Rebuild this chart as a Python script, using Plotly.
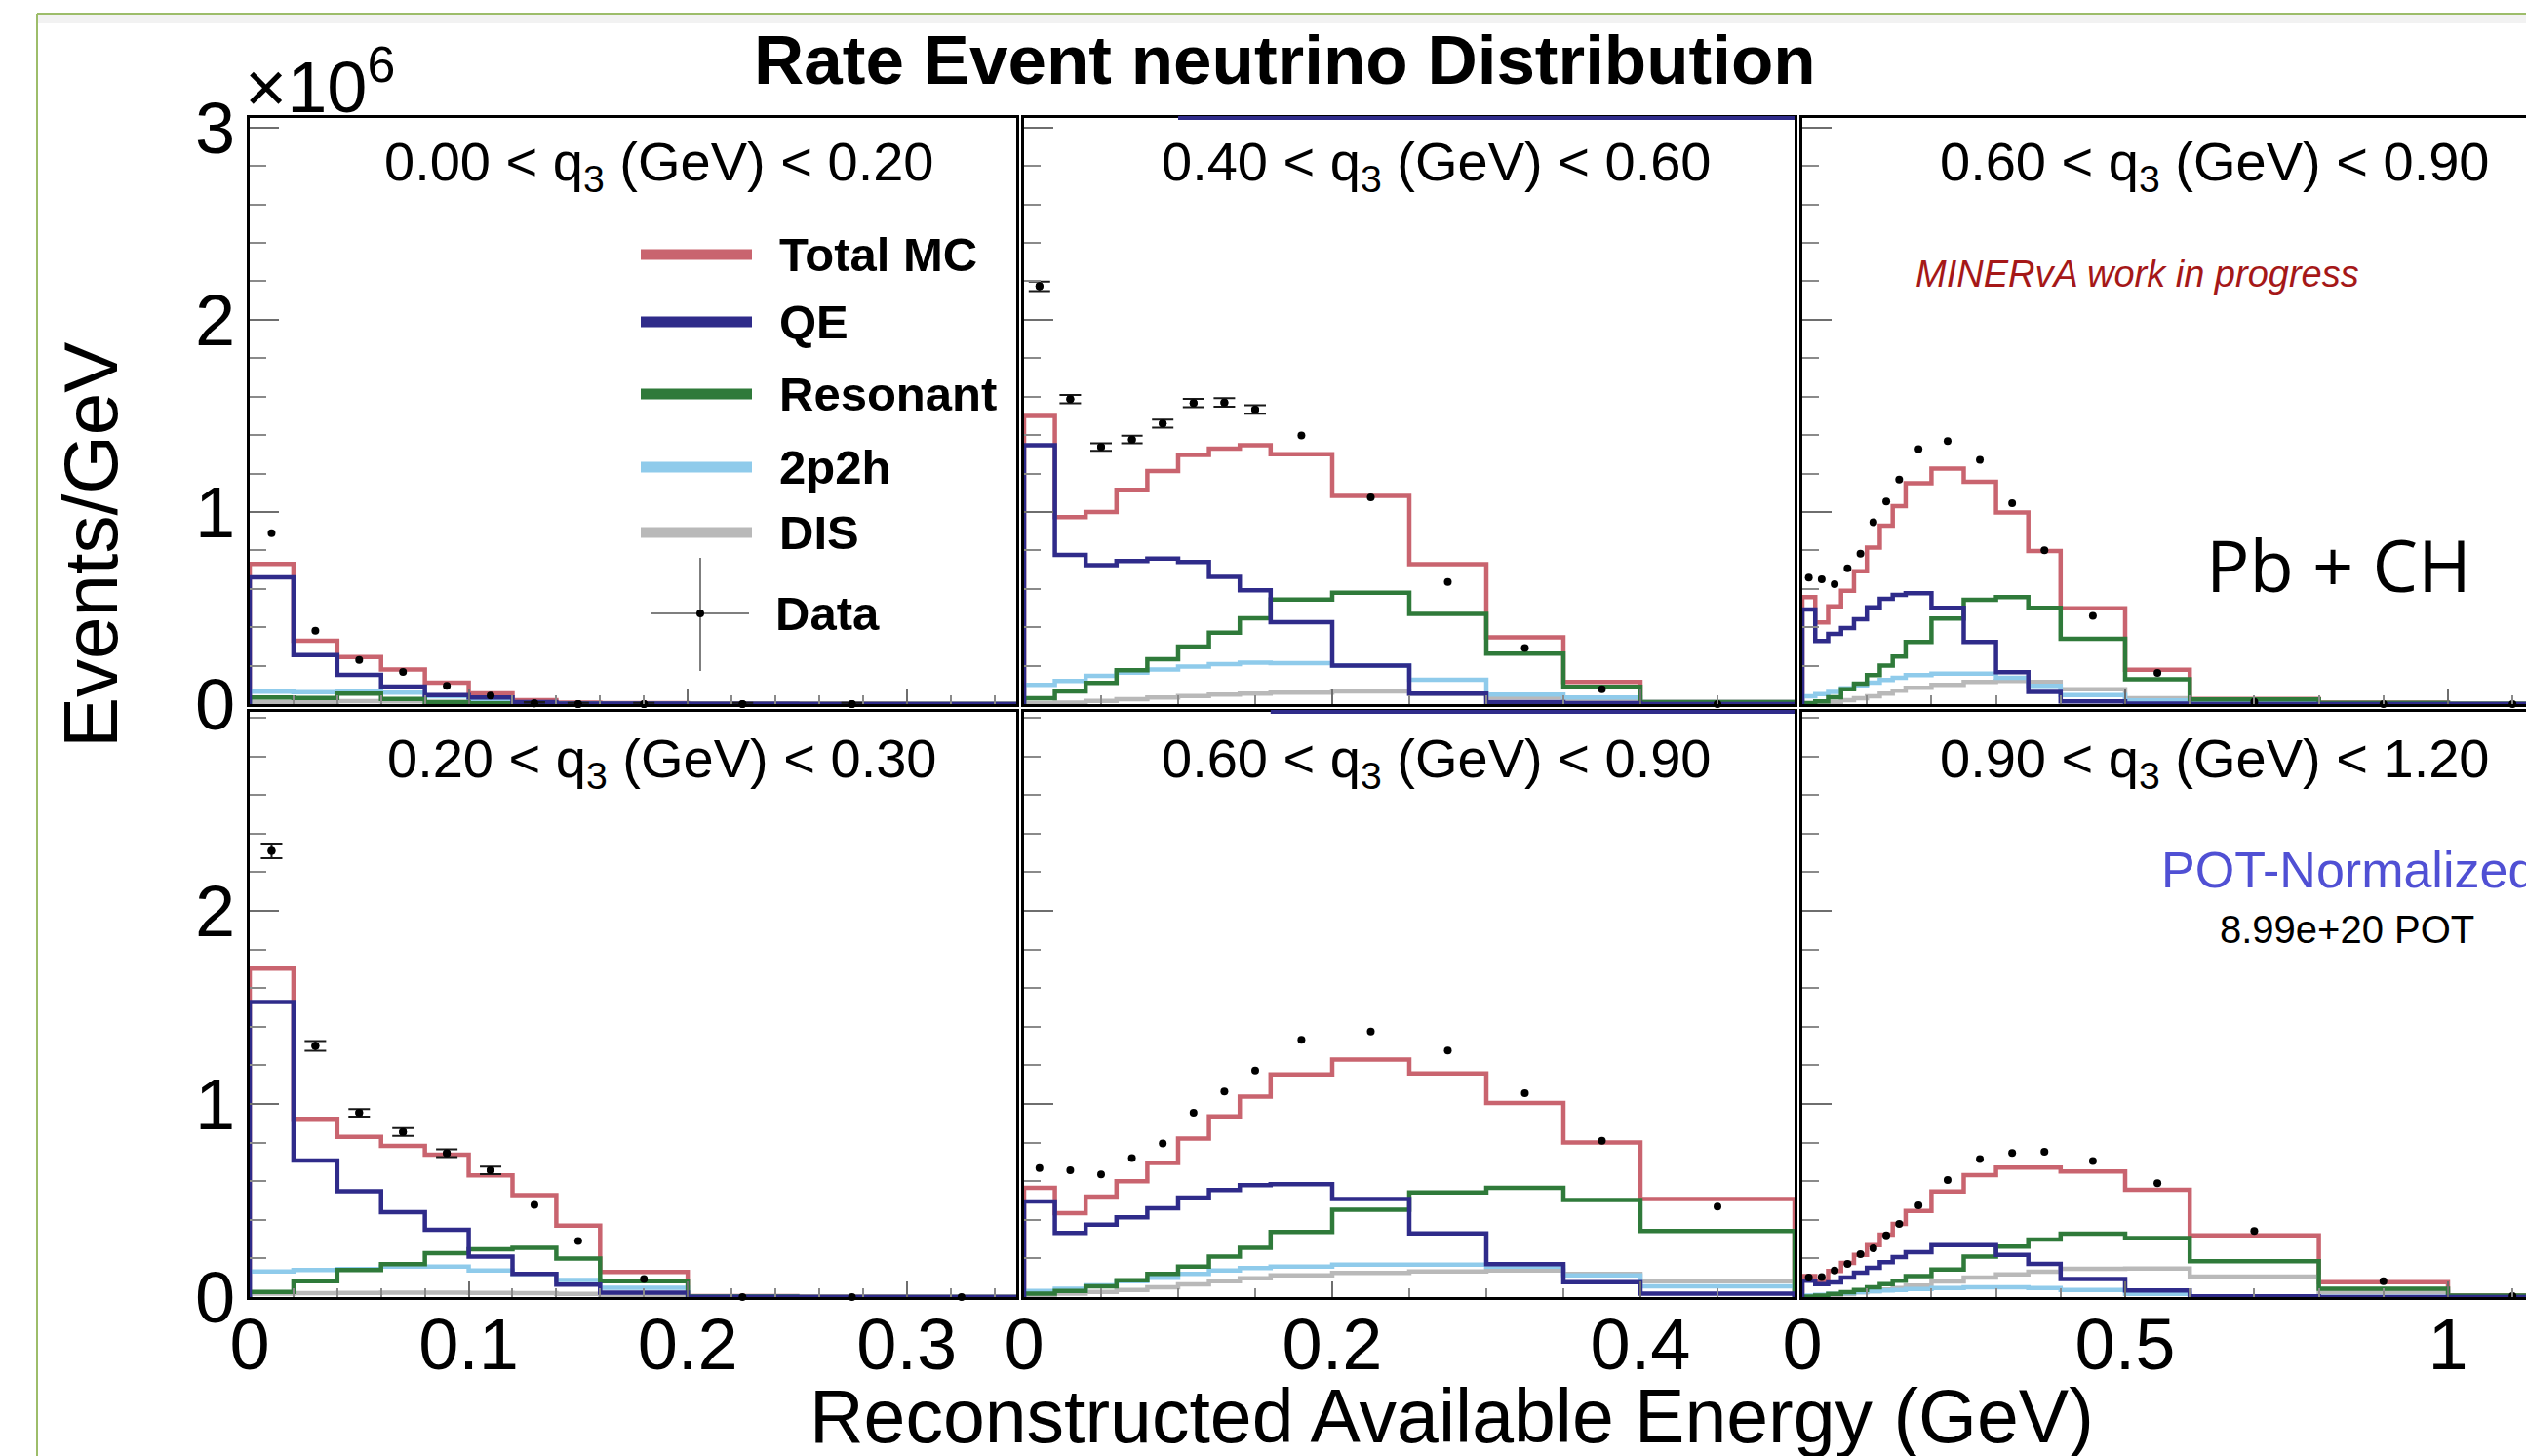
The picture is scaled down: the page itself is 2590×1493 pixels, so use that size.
import plotly.graph_objects as go

W, H = 2590, 1493

# ---------------- data (values in units of 10^6 events/GeV) ----------------
EDGES = [0.0, 0.02, 0.04, 0.06, 0.08, 0.10, 0.12, 0.14, 0.16, 0.20, 0.25,
         0.30, 0.35, 0.40, 0.50, 0.60, 0.80, 1.00, 1.20]

Q3_LABELS = ["0.00 &lt; q<sub>3</sub> (GeV) &lt; 0.20",
             "0.40 &lt; q<sub>3</sub> (GeV) &lt; 0.60",
             "0.60 &lt; q<sub>3</sub> (GeV) &lt; 0.90",
             "0.20 &lt; q<sub>3</sub> (GeV) &lt; 0.30",
             "0.60 &lt; q<sub>3</sub> (GeV) &lt; 0.90",
             "0.90 &lt; q<sub>3</sub> (GeV) &lt; 1.20"]

SERIES = ["Total MC", "QE", "Resonant", "2p2h", "DIS"]

# panel 1 : 0.00 < q3 < 0.20
P1_TOTAL = [0.73, 0.33, 0.245, 0.18, 0.112, 0.056, 0.02, 0.008, 0.005, 0.003, 0.002, 0.001]
P1_QE    = [0.66, 0.255, 0.152, 0.091, 0.047, 0.034, 0.01, 0.003, 0.002, 0.001, 0.0, 0.0]
P1_RES   = [0.034, 0.032, 0.055, 0.027, 0.01, 0.004, 0.002, 0.001, 0.0, 0.0, 0.0, 0.0]
P1_2P2H  = [0.065, 0.062, 0.07, 0.06, 0.04, 0.015, 0.005, 0.002, 0.001, 0.0, 0.0, 0.0]
P1_DIS   = [0.012, 0.012, 0.015, 0.014, 0.01, 0.005, 0.002, 0.001, 0.0, 0.0, 0.0, 0.0]
P1_DATA  = [0.89, 0.382, 0.23, 0.168, 0.095, 0.044, 0.004, 0.0, 0.0, 0.0, 0.0]
P1_ERR   = [None, None, None, None, None, None, 0.006, 0.006, 0.006, 0.006, 0.006]

# panel 2 : 0.40 < q3 < 0.60
P2_TOTAL = [1.50, 0.973, 1.00, 1.115, 1.213, 1.296, 1.33, 1.347, 1.30, 1.083, 0.728, 0.348, 0.115, 0.01]
P2_QE    = [1.348, 0.777, 0.723, 0.745, 0.757, 0.74, 0.662, 0.593, 0.426, 0.20, 0.054, 0.01, 0.005, 0.0]
P2_RES   = [0.03, 0.066, 0.11, 0.176, 0.233, 0.30, 0.372, 0.446, 0.544, 0.58, 0.47, 0.262, 0.09, 0.01]
P2_2P2H  = [0.10, 0.12, 0.147, 0.164, 0.18, 0.196, 0.208, 0.216, 0.213, 0.20, 0.127, 0.05, 0.034, 0.01]
P2_DIS   = [0.005, 0.008, 0.017, 0.025, 0.034, 0.042, 0.049, 0.054, 0.06, 0.066, 0.054, 0.034, 0.017, 0.005]
P2_DATA  = [2.174, 1.587, 1.338, 1.377, 1.46, 1.567, 1.57, 1.533, 1.398, 1.076, 0.635, 0.292, 0.078, 0.0]
P2_ERR   = [0.025, 0.022, 0.02, 0.02, 0.021, 0.022, 0.022, 0.022, None, None, None, None, None, None]

# panel 3 : 0.60 < q3 < 0.90 (top)
P3_TOTAL = [0.557, 0.425, 0.509, 0.59, 0.692, 0.814, 0.929, 1.03, 1.149, 1.225, 1.157, 0.997, 0.797, 0.499, 0.179, 0.027, 0.008, 0.002]
P3_QE    = [0.492, 0.328, 0.365, 0.396, 0.442, 0.504, 0.548, 0.569, 0.577, 0.501, 0.323, 0.166, 0.064, 0.014, 0.002, 0.0, 0.0, 0.0]
P3_RES   = [0.005, 0.014, 0.036, 0.078, 0.107, 0.151, 0.20, 0.247, 0.323, 0.445, 0.543, 0.557, 0.501, 0.34, 0.129, 0.024, 0.006, 0.001]
P3_2P2H  = [0.041, 0.052, 0.064, 0.083, 0.098, 0.112, 0.125, 0.137, 0.151, 0.159, 0.159, 0.137, 0.095, 0.047, 0.019, 0.004, 0.001, 0.0]
P3_DIS   = [0.002, 0.005, 0.012, 0.02, 0.03, 0.04, 0.055, 0.07, 0.085, 0.10, 0.115, 0.12, 0.115, 0.078, 0.03, 0.01, 0.003, 0.001]
P3_DATA  = [0.658, 0.65, 0.624, 0.707, 0.783, 0.946, 1.054, 1.169, 1.327, 1.369, 1.271, 1.046, 0.80, 0.459, 0.162, 0.012, 0.0, 0.0]

# panel 4 : 0.20 < q3 < 0.30
P4_TOTAL = [1.70, 0.923, 0.829, 0.783, 0.737, 0.63, 0.528, 0.37, 0.13, 0.005, 0.002, 0.001]
P4_QE    = [1.528, 0.707, 0.548, 0.439, 0.349, 0.209, 0.12, 0.064, 0.023, 0.001, 0.0, 0.0]
P4_RES   = [0.026, 0.082, 0.14, 0.171, 0.227, 0.247, 0.255, 0.20, 0.082, 0.003, 0.0, 0.0]
P4_2P2H  = [0.133, 0.14, 0.145, 0.158, 0.158, 0.138, 0.12, 0.089, 0.048, 0.002, 0.0, 0.0]
P4_DIS   = [0.018, 0.02, 0.022, 0.023, 0.023, 0.022, 0.02, 0.016, 0.01, 0.001, 0.0, 0.0]
P4_DATA  = [2.31, 1.30, 0.954, 0.855, 0.745, 0.656, 0.477, 0.29, 0.094, 0.0, 0.0, 0.0]
P4_ERR   = [0.038, 0.025, 0.02, 0.02, 0.02, 0.02, None, None, None, None, None, None]

# panel 5 : 0.60 < q3 < 0.90 (bottom)
P5_TOTAL = [0.566, 0.434, 0.52, 0.60, 0.694, 0.821, 0.936, 1.038, 1.153, 1.23, 1.158, 1.005, 0.80, 0.508]
P5_QE    = [0.495, 0.332, 0.375, 0.413, 0.459, 0.515, 0.554, 0.579, 0.584, 0.508, 0.329, 0.171, 0.077, 0.018]
P5_RES   = [0.018, 0.031, 0.056, 0.087, 0.12, 0.158, 0.209, 0.255, 0.337, 0.452, 0.541, 0.566, 0.503, 0.342]
P5_2P2H  = [0.031, 0.043, 0.061, 0.082, 0.10, 0.12, 0.138, 0.15, 0.158, 0.168, 0.168, 0.158, 0.112, 0.056]
P5_DIS   = [0.01, 0.018, 0.026, 0.036, 0.051, 0.066, 0.082, 0.097, 0.112, 0.125, 0.133, 0.138, 0.12, 0.082]
P5_DATA  = [0.668, 0.656, 0.635, 0.719, 0.796, 0.954, 1.064, 1.173, 1.332, 1.375, 1.276, 1.056, 0.809, 0.469]

# panel 6 : 0.90 < q3 < 1.20
P6_TOTAL = [0.109, 0.084, 0.135, 0.177, 0.219, 0.269, 0.323, 0.379, 0.446, 0.547, 0.631, 0.67, 0.67, 0.65, 0.556, 0.32, 0.077, 0.008]
P6_QE    = [0.084, 0.067, 0.076, 0.101, 0.126, 0.152, 0.18, 0.207, 0.232, 0.269, 0.269, 0.219, 0.172, 0.093, 0.034, 0.004, 0.0, 0.0]
P6_RES   = [0.002, 0.008, 0.017, 0.025, 0.037, 0.05, 0.067, 0.084, 0.109, 0.143, 0.21, 0.261, 0.298, 0.328, 0.306, 0.185, 0.043, 0.008]
P6_2P2H  = [0.008, 0.011, 0.017, 0.02, 0.025, 0.03, 0.034, 0.037, 0.042, 0.047, 0.05, 0.05, 0.047, 0.037, 0.017, 0.003, 0.001, 0.0]
P6_DIS   = [0.002, 0.004, 0.008, 0.015, 0.025, 0.03, 0.039, 0.047, 0.059, 0.081, 0.101, 0.118, 0.131, 0.146, 0.148, 0.106, 0.026, 0.004]
P6_DATA  = [0.101, 0.104, 0.138, 0.172, 0.222, 0.253, 0.32, 0.379, 0.475, 0.606, 0.715, 0.746, 0.753, 0.704, 0.589, 0.342, 0.082, 0.005]

PANELS = [
    (P1_TOTAL, P1_QE, P1_RES, P1_2P2H, P1_DIS, P1_DATA, P1_ERR),
    (P2_TOTAL, P2_QE, P2_RES, P2_2P2H, P2_DIS, P2_DATA, P2_ERR),
    (P3_TOTAL, P3_QE, P3_RES, P3_2P2H, P3_DIS, P3_DATA, None),
    (P4_TOTAL, P4_QE, P4_RES, P4_2P2H, P4_DIS, P4_DATA, P4_ERR),
    (P5_TOTAL, P5_QE, P5_RES, P5_2P2H, P5_DIS, P5_DATA, None),
    (P6_TOTAL, P6_QE, P6_RES, P6_2P2H, P6_DIS, P6_DATA, None),
]

# ---------------- styling ----------------
COLORS = {"Total MC": "#c9646f", "QE": "#2f2b8a", "Resonant": "#2f7a3a",
          "2p2h": "#8fcbeb", "DIS": "#b9b9b9"}
DRAW_ORDER = ["Total MC", "DIS", "2p2h", "Resonant", "QE"]
FONT = "Liberation Sans, Arial, Helvetica, sans-serif"


def px(x):
    return x / W


def py(y):
    return 1 - y / H


def step_xy(vals):
    n = len(vals)
    xs = [EDGES[0]] + EDGES[:n + 1]
    ys = [0.0] + list(vals) + [0.0]
    return xs, ys


def centers(n):
    return [(EDGES[i] + EDGES[i + 1]) / 2 for i in range(n)]


fig = go.Figure()

for k, panel in enumerate(PANELS):
    idx = k + 1
    xa = "x" if idx == 1 else f"x{idx}"
    ya = "y" if idx == 1 else f"y{idx}"
    series_vals = dict(zip(SERIES, panel[:5]))
    for name in DRAW_ORDER:
        xs, ys = step_xy(series_vals[name])
        fig.add_trace(go.Scatter(x=xs, y=ys, mode="lines", line_shape="hv",
                                 line=dict(color=COLORS[name], width=4.5),
                                 xaxis=xa, yaxis=ya, showlegend=False,
                                 hoverinfo="skip"))
    data = panel[5]
    err = panel[6]
    cx = centers(len(data))
    fig.add_trace(go.Scatter(x=cx, y=data, mode="markers",
                             marker=dict(color="black", size=8),
                             cliponaxis=False, xaxis=xa, yaxis=ya,
                             showlegend=False))
    if err is not None:
        ex = [cx[i] for i in range(len(data)) if err[i] is not None]
        ey = [data[i] for i in range(len(data)) if err[i] is not None]
        ee = [err[i] for i in range(len(data)) if err[i] is not None]
        fig.add_trace(go.Scatter(x=ex, y=ey, mode="markers",
                                 marker=dict(color="black", size=8),
                                 error_y=dict(type="data", array=ee, visible=True,
                                              color="#1a1a1a", thickness=2, width=11),
                                 cliponaxis=False, xaxis=xa, yaxis=ya,
                                 showlegend=False))

# ---------------- axes ----------------
COLS = [
    dict(x0=256, x1=1042, xmax=0.35, tickvals=[0, 0.1, 0.2, 0.3], minor=0.02),
    dict(x0=1050, x1=1840, xmax=0.5, tickvals=[0, 0.2, 0.4], minor=0.05),
    dict(x0=1848, x1=2590, xmax=(2590 - 1848) / 662.0, tickvals=[0, 0.5, 1], minor=0.1),
]
ROWS = [dict(y0=121, y1=722, ymax=3.05, tickvals=[0, 1, 2, 3]),
        dict(y0=730, y1=1330, ymax=3.03, tickvals=[0, 1, 2])]

TICKFONT = dict(family=FONT, size=74, color="black")

layout_axes = {}
for r, row in enumerate(ROWS):
    for c, col in enumerate(COLS):
        idx = r * 3 + c + 1
        xname = "xaxis" if idx == 1 else f"xaxis{idx}"
        yname = "yaxis" if idx == 1 else f"yaxis{idx}"
        layout_axes[xname] = dict(
            domain=[px(col["x0"]), px(col["x1"])], range=[0, col["xmax"]],
            anchor="y" if idx == 1 else f"y{idx}", automargin=False,
            showline=True, linecolor="black", linewidth=3, mirror=True,
            ticks="inside", ticklen=16, tickwidth=2, tickcolor="#6e6e6e",
            tickmode="array", tickvals=col["tickvals"],
            minor=dict(tickmode="linear", tick0=0, dtick=col["minor"], ticks="inside",
                       ticklen=9, tickwidth=2, tickcolor="#8a8a8a"),
            showgrid=False, zeroline=False, showticklabels=(r == 1),
            tickfont=TICKFONT, ticklabelstandoff=-18, fixedrange=True)
        layout_axes[yname] = dict(
            domain=[py(row["y1"]), py(row["y0"])], range=[0, row["ymax"]],
            anchor="x" if idx == 1 else f"x{idx}", automargin=False,
            showline=True, linecolor="black", linewidth=3, mirror=(c != 2),
            ticks="inside", ticklen=30, tickwidth=2, tickcolor="#6e6e6e",
            tickmode="array", tickvals=row["tickvals"],
            minor=dict(tickmode="linear", tick0=0, dtick=0.2, ticks="inside",
                       ticklen=17, tickwidth=2, tickcolor="#8a8a8a"),
            showgrid=False, zeroline=False, showticklabels=(c == 0),
            tickfont=TICKFONT, ticklabelstandoff=-3, fixedrange=True)

# ---------------- annotations ----------------
ann = []


def text(x, y, s, size, color="black", family=FONT, xanchor="center", angle=0):
    ann.append(dict(x=px(x), y=py(y), xref="paper", yref="paper", text=s,
                    showarrow=False, xanchor=xanchor, yanchor="middle",
                    textangle=angle, font=dict(family=family, size=size, color=color)))


text(1317, 61, "<b>Rate Event neutrino Distribution</b>", 71)
text(249, 84, "×10<sup>6</sup>", 74, xanchor="left")
text(93, 559, "Events/GeV", 78, angle=-90)
text(1488, 1452, "Reconstructed Available Energy (GeV)", 77)

LABEL_POS = [(676, 170), (1473, 170), (2271, 170), (679, 781), (1473, 781), (2271, 781)]
for (lx, ly), lab in zip(LABEL_POS, Q3_LABELS):
    text(lx, ly, lab, 56)

text(2191, 281, "<i>MINERvA work in progress</i>", 38, color="#a51818")
text(2398, 578, "Pb + CH", 74, family="Open Sans, Noto Sans, sans-serif")
text(2214, 892, "POT-Normalized", 52, color="#5050d4", xanchor="left")
text(2406, 953, "8.99e+20 POT", 40)

# legend (drawn in panel 1)
LEG_ROWS = [261, 330, 404, 479, 546]
shapes = []
for name, yy in zip(SERIES, LEG_ROWS):
    shapes.append(dict(type="line", xref="paper", yref="paper",
                       x0=px(657), x1=px(771), y0=py(yy), y1=py(yy),
                       line=dict(color=COLORS[name], width=11)))
    text(797, yy, f"<b>{name}</b>", 49, xanchor="left")
shapes.append(dict(type="line", xref="paper", yref="paper", x0=px(718), x1=px(718),
                   y0=py(572), y1=py(688), line=dict(color="#555555", width=1.5)))
shapes.append(dict(type="line", xref="paper", yref="paper", x0=px(668), x1=px(768),
                   y0=py(629), y1=py(629), line=dict(color="#555555", width=1.5)))
shapes.append(dict(type="circle", xref="paper", yref="paper", x0=px(714), x1=px(722),
                   y0=py(633), y1=py(625), fillcolor="black", line=dict(width=0)))
text(793, 629, "<b>Data</b>", 49, xanchor="left")

# hidden-pad artefacts peeking along the top frames of the middle panels
shapes.append(dict(type="line", xref="x2", yref="y2 domain", x0=0.1, x1=0.5, y0=1, y1=1,
                   line=dict(color="#2f2b8a", width=4)))
shapes.append(dict(type="line", xref="x5", yref="y5 domain", x0=0.16, x1=0.5, y0=1, y1=1,
                   line=dict(color="#2f2b8a", width=4)))

# slide border (green) and its soft shadow
shapes.append(dict(type="rect", xref="paper", yref="paper", x0=px(39), x1=1,
                   y0=py(24), y1=py(15), fillcolor="#f2f2f2", line=dict(width=0), layer="below"))
shapes.append(dict(type="line", xref="paper", yref="paper", x0=px(38), x1=px(38),
                   y0=0, y1=py(14), line=dict(color="#9dbd6a", width=2)))
shapes.append(dict(type="line", xref="paper", yref="paper", x0=px(38), x1=1,
                   y0=py(14), y1=py(14), line=dict(color="#9dbd6a", width=2)))

fig.update_layout(
    width=W, height=H, autosize=False,
    margin=dict(l=0, r=0, t=0, b=0, autoexpand=False),
    paper_bgcolor="white", plot_bgcolor="white",
    font=dict(family=FONT, color="black"),
    annotations=ann, shapes=shapes, showlegend=False,
    **layout_axes,
)

fig.write_html("out.html")
